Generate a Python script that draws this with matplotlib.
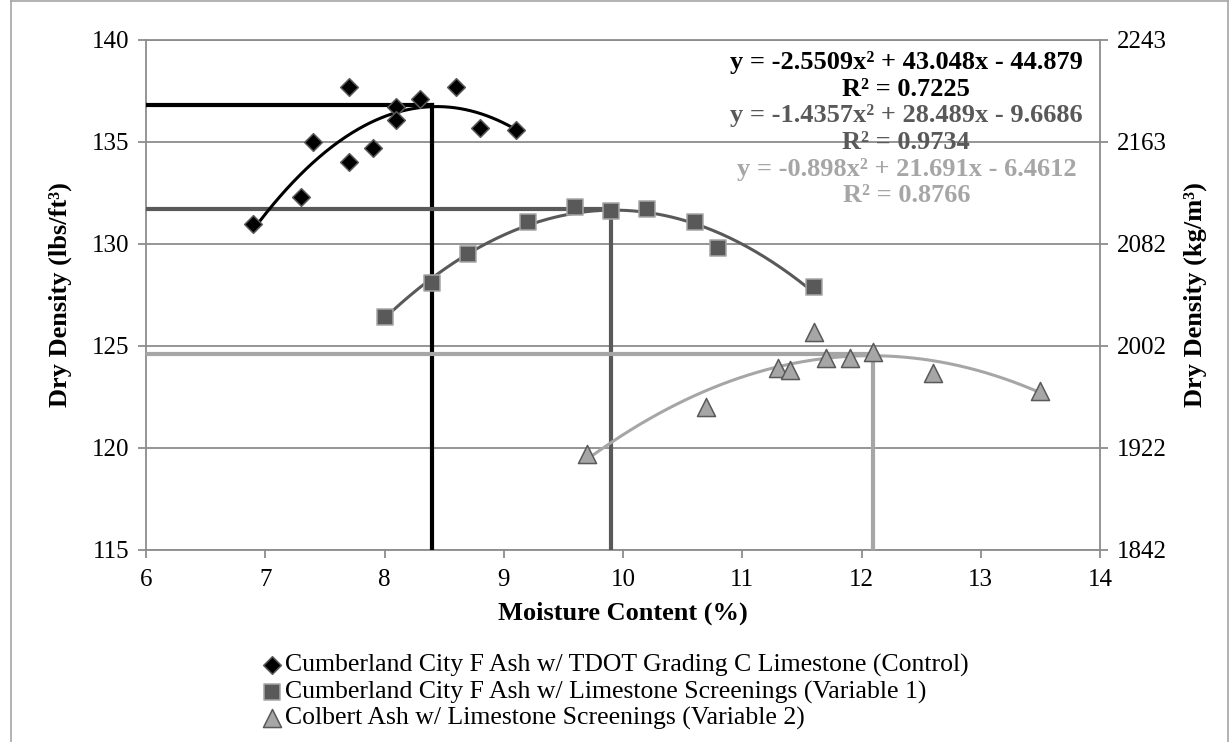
import numpy as np
import matplotlib.pyplot as plt
from matplotlib.lines import Line2D

plt.rcParams['font.family'] = ['Liberation Serif', 'DejaVu Serif']

# valeurs
control_x = [6.9, 7.3, 7.4, 7.7, 7.7, 7.9, 8.1, 8.1, 8.3, 8.6, 8.8, 9.1]
control_y = [131.0, 132.3, 135.0, 137.7, 134.0, 134.7, 136.7, 136.1, 137.1, 137.7, 135.7, 135.6]
var1_x = [8.0, 8.4, 8.7, 9.2, 9.6, 9.9, 10.2, 10.6, 10.8, 11.6]
var1_y = [126.4, 128.1, 129.5, 131.1, 131.8, 131.6, 131.7, 131.1, 129.8, 127.9]
var2_x = [9.7, 10.7, 11.3, 11.4, 11.6, 11.7, 11.9, 12.1, 12.6, 13.5]
var2_y = [119.7, 122.0, 123.9, 123.8, 125.7, 124.4, 124.4, 124.7, 123.7, 122.8]

# courbes de tendance (polynomes d'ordre 2)
coef_a = [-2.5509, -1.4357, -0.898]
coef_b = [43.048, 28.489, 21.691]
coef_c = [-44.879, -9.6686, -6.4612]
eq_labels = ['y = -2.5509x² + 43.048x - 44.879',
             'y = -1.4357x² + 28.489x - 9.6686',
             'y = -0.898x² + 21.691x - 6.4612']
r2_labels = ['R² = 0.7225', 'R² = 0.9734', 'R² = 0.8766']

# teneur en eau optimale / densite seche maximale
opt_moisture = [8.4, 9.9, 12.1]
max_density = [136.8, 131.7, 124.6]

names = ['Cumberland City F Ash w/ TDOT Grading C Limestone (Control)',
         'Cumberland City F Ash w/ Limestone Screenings (Variable 1)',
         'Colbert Ash w/ Limestone Screenings (Variable 2)']

left_ticks = [115, 120, 125, 130, 135, 140]
right_ticks = [1842, 1922, 2002, 2082, 2163, 2243]

colors = ['#000000', '#595959', '#A6A6A6']
edges = ['#595959', '#A6A6A6', '#595959']
markers = ['D', 's', '^']
msizes = [9, 12, 13]
grid_col = '#8C8C8C'

fig = plt.figure(figsize=(12.3, 7.42), dpi=100)
ax = fig.add_axes([146/1230, 1-550/742, 954/1230, 510/742])

series = [(control_x, control_y), (var1_x, var1_y), (var2_x, var2_y)]

# lignes optimum
for i in range(3):
    ax.plot([6, opt_moisture[i]], [max_density[i], max_density[i]], color=colors[i], lw=3, zorder=3)
    ax.plot([opt_moisture[i], opt_moisture[i]], [115, max_density[i]], color=colors[i], lw=3, zorder=3)

handles = []
for i, (xs, ys) in enumerate(series):
    xx = np.linspace(min(xs), max(xs), 200)
    yy = coef_a[i] * xx**2 + coef_b[i] * xx + coef_c[i]
    ax.plot(xx, yy, color=colors[i], lw=2.2, zorder=4)
    h = ax.scatter(xs, ys, marker=markers[i], s=msizes[i]**2, color=colors[i],
                   edgecolors=edges[i], linewidths=1.1, zorder=5, label=names[i])
    handles.append(h)

ax.set_xlim(6, 14)
ax.set_ylim(115, 140)
ax.set_xticks(range(6, 15))
ax.set_yticks(left_ticks)
ax.grid(axis='y', color=grid_col, lw=1.3)
ax.set_axisbelow(True)
for sp in ax.spines.values():
    sp.set_color(grid_col)
    sp.set_linewidth(1.3)
ax.tick_params(labelsize=18, color=grid_col, width=1.3, length=6)
ax.tick_params(axis='y', pad=6)
ax.tick_params(axis='x', pad=8)
ax.set_xlabel('Moisture Content (%)', fontsize=19, fontweight='bold', labelpad=7)
ax.set_ylabel('Dry Density (lbs/ft³)', fontsize=19, fontweight='bold', labelpad=14)

ax2 = ax.twinx()
ax2.set_ylim(115, 140)
ax2.set_yticks(left_ticks)
ax2.set_yticklabels([str(t) for t in right_ticks])
ax2.tick_params(labelsize=18, color=grid_col, width=1.3, length=6, pad=6)
for sp in ax2.spines.values():
    sp.set_visible(False)
ax2.set_ylabel('Dry Density (kg/m³)', fontsize=19, fontweight='bold', labelpad=12)

# equations
y0 = 0.955
for i in range(3):
    ax.text(0.797, y0 - i * 0.104, eq_labels[i], transform=ax.transAxes, ha='center', va='center',
            fontsize=19, fontweight='bold', color=colors[i], zorder=6)
    ax.text(0.797, y0 - i * 0.104 - 0.052, r2_labels[i], transform=ax.transAxes, ha='center', va='center',
            fontsize=19, fontweight='bold', color=colors[i], zorder=6)

fig.legend(handles=handles, loc='upper left', bbox_to_anchor=(263/1230, 1-654/742),
           frameon=False, fontsize=18.5, handletextpad=0.17, handlelength=0.7,
           labelspacing=0.12, borderaxespad=0, borderpad=0, markerscale=1.0)

# cadre du graphique
for xs_, ys_ in [([11/1230, 11/1230], [0, 1-1/742]),
                 ([11/1230, 1228/1230], [1-1/742, 1-1/742]),
                 ([1228/1230, 1228/1230], [0, 1-1/742])]:
    fig.add_artist(Line2D(xs_, ys_, transform=fig.transFigure, color='#A6A6A6', lw=1.2))

fig.savefig('out.png', dpi=100)
